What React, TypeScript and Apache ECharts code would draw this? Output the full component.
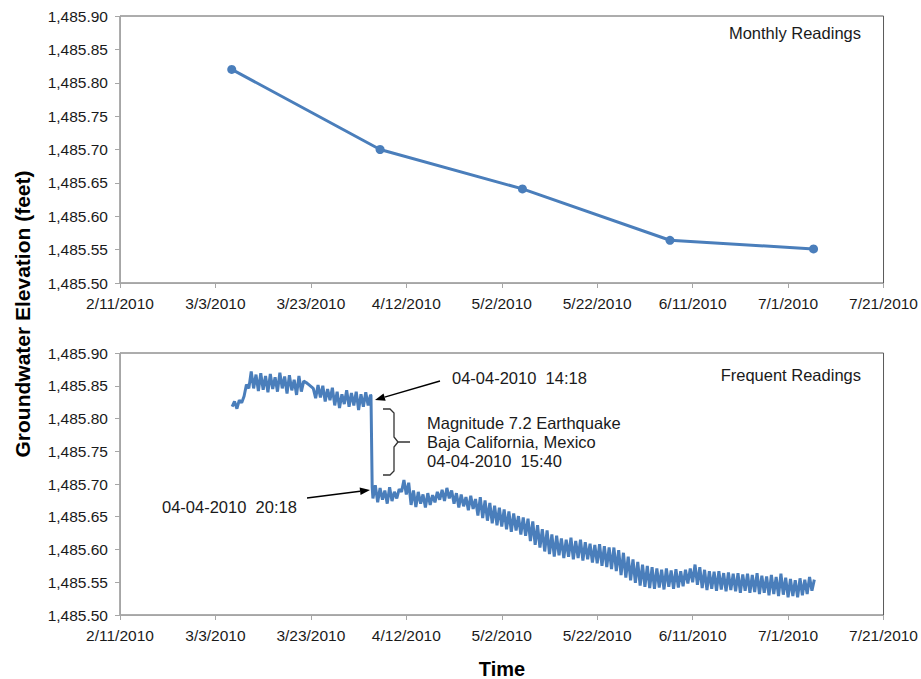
import React, { useEffect, useRef } from "react";
import * as echarts from "echarts";

// ---- axes ----
const X_ORIGIN = "2010-02-11T00:00";
const X_TICK_DAYS = 20;
const X_SPAN_DAYS = 160;
const Y_MIN = 1485.5;
const Y_MAX = 1485.9;
const Y_STEP = 0.05;

// ---- monthly readings ----
const MONTHLY_DATES = ["2010-03-06T10:00", "2010-04-06T12:00", "2010-05-06T08:00", "2010-06-06T06:00", "2010-07-06T08:00"];
const MONTHLY_VALUES = [1485.82, 1485.7, 1485.641, 1485.564, 1485.551];

// ---- frequent readings (12-hour samples) ----
const PRE_QUAKE_START = "2010-03-06T12:00";
const SAMPLE_HOURS = 12;
const PRE_QUAKE_VALUES = [
  1485.818,
  1485.826, 1485.815,
  1485.828, 1485.824,
  1485.834, 1485.852,
  1485.846, 1485.872,
  1485.846, 1485.867,
  1485.842, 1485.869,
  1485.844, 1485.865,
  1485.840, 1485.868,
  1485.845, 1485.863,
  1485.841, 1485.870,
  1485.846, 1485.864,
  1485.838, 1485.866,
  1485.843, 1485.859,
  1485.836, 1485.865,
  1485.841, 1485.857,
  1485.855, 1485.852,
  1485.849, 1485.846,
  1485.831, 1485.851,
  1485.832, 1485.850,
  1485.826, 1485.845,
  1485.828, 1485.847,
  1485.820, 1485.841,
  1485.816, 1485.837,
  1485.822, 1485.843,
  1485.818, 1485.839,
  1485.820, 1485.841,
  1485.813, 1485.837,
  1485.818, 1485.840,
  1485.820, 1485.836,
];
const QUAKE_TIMES = ["2010-04-04T14:18", "2010-04-04T20:18"];
const QUAKE_VALUES = [1485.835, 1485.695];
const POST_QUAKE_START = "2010-04-05T00:00";
const POST_QUAKE_VALUES = [
  1485.678, 1485.698, 1485.672, 1485.694, 1485.676, 1485.690, 1485.670, 1485.695,
  1485.674, 1485.688, 1485.678, 1485.692, 1485.688, 1485.706, 1485.684, 1485.702,
  1485.668, 1485.690, 1485.665, 1485.688, 1485.670, 1485.684, 1485.664, 1485.686,
  1485.668, 1485.683, 1485.672, 1485.688, 1485.676, 1485.691, 1485.674, 1485.694,
  1485.678, 1485.690, 1485.670, 1485.686, 1485.664, 1485.684, 1485.666, 1485.680,
  1485.660, 1485.682, 1485.662, 1485.677,
  1485.652, 1485.680, 1485.648, 1485.675, 1485.644, 1485.671, 1485.640, 1485.667,
  1485.637, 1485.664, 1485.635, 1485.661, 1485.631, 1485.658, 1485.627, 1485.655,
  1485.629, 1485.651, 1485.623, 1485.649, 1485.621, 1485.647, 1485.613, 1485.643,
  1485.607, 1485.637, 1485.603, 1485.631, 1485.597, 1485.629, 1485.593, 1485.623,
  1485.589, 1485.621, 1485.591, 1485.617, 1485.587, 1485.615, 1485.589, 1485.618,
  1485.585, 1485.613, 1485.587, 1485.615, 1485.583, 1485.611, 1485.585, 1485.609,
  1485.580, 1485.607, 1485.579, 1485.608, 1485.575, 1485.605, 1485.573, 1485.603,
  1485.570, 1485.603, 1485.567, 1485.599, 1485.561, 1485.595, 1485.557, 1485.589,
  1485.553, 1485.585, 1485.549, 1485.581, 1485.545, 1485.577, 1485.543, 1485.575,
  1485.541, 1485.573, 1485.540, 1485.571, 1485.542, 1485.569, 1485.539, 1485.571,
  1485.543, 1485.568, 1485.540, 1485.570, 1485.542, 1485.567, 1485.544, 1485.569,
  1485.548, 1485.571, 1485.550, 1485.577, 1485.546, 1485.573, 1485.541, 1485.569,
  1485.538, 1485.567, 1485.540, 1485.566, 1485.537, 1485.567, 1485.539, 1485.564,
  1485.536, 1485.565, 1485.538, 1485.563, 1485.536, 1485.564, 1485.534, 1485.562,
  1485.537, 1485.563, 1485.534, 1485.561, 1485.535, 1485.564, 1485.532, 1485.560,
  1485.534, 1485.559, 1485.530, 1485.561, 1485.532, 1485.558, 1485.529, 1485.563,
  1485.531, 1485.557, 1485.527, 1485.555, 1485.529, 1485.553, 1485.527, 1485.556,
  1485.530, 1485.554, 1485.532, 1485.558, 1485.537, 1485.554,
];

// ---- texts ----
const Y_TITLE = "Groundwater Elevation (feet)";
const X_TITLE = "Time";
const TOP_LABEL = "Monthly Readings";
const BOTTOM_LABEL = "Frequent Readings";
const NOTE_BEFORE = "04-04-2010  14:18";
const NOTE_QUAKE = ["Magnitude 7.2 Earthquake", "Baja California, Mexico", "04-04-2010  15:40"];
const NOTE_AFTER = "04-04-2010  20:18";

const DAY_MS = 86400000;
const FONT = "'Liberation Sans', Arial, Helvetica, sans-serif";
const BLUE = "#4a7ebb";
const TXT = "#1a1a1a";
const AXIS_FS = 15.5;
const NOTE_FS = 16.5;

const t0 = Date.parse(X_ORIGIN + "Z");
const toDays = (s: string) => (Date.parse(s + "Z") - t0) / DAY_MS;

const monthlyData = MONTHLY_DATES.map((d, i) => [toDays(d), MONTHLY_VALUES[i]]);
const frequentData: number[][] = [];
{
  const s1 = toDays(PRE_QUAKE_START);
  PRE_QUAKE_VALUES.forEach((v, i) => frequentData.push([s1 + (i * SAMPLE_HOURS) / 24, v]));
  QUAKE_TIMES.forEach((d, i) => frequentData.push([toDays(d), QUAKE_VALUES[i]]));
  const s2 = toDays(POST_QUAKE_START);
  POST_QUAKE_VALUES.forEach((v, i) => frequentData.push([s2 + (i * SAMPLE_HOURS) / 24, v]));
}

const fmtY = (v: number) => {
  const [i, d] = v.toFixed(2).split(".");
  return i.replace(/\B(?=(\d{3})+(?!\d))/g, ",") + "." + d;
};
const fmtX = (v: number) => {
  const d = new Date(t0 + Math.round(v) * DAY_MS);
  return `${d.getUTCMonth() + 1}/${d.getUTCDate()}/${d.getUTCFullYear()}`;
};

function arrow(x1: number, y1: number, x2: number, y2: number) {
  const ang = Math.atan2(y2 - y1, x2 - x1);
  const len = 10;
  const half = 3.8;
  const bx = x2 - Math.cos(ang) * len;
  const by = y2 - Math.sin(ang) * len;
  const px = -Math.sin(ang) * half;
  const py = Math.cos(ang) * half;
  return [
    { type: "line", shape: { x1, y1, x2: bx, y2: by }, style: { stroke: "#000", lineWidth: 1.4 } },
    {
      type: "polygon",
      shape: { points: [[x2, y2], [bx + px, by + py], [bx - px, by - py]] },
      style: { fill: "#000" },
    },
  ];
}

function makeXAxis(gridIndex: number) {
  return {
    type: "value",
    gridIndex,
    min: 0,
    max: X_SPAN_DAYS,
    interval: X_TICK_DAYS,
    axisLine: { show: true, lineStyle: { color: "#a6a6a6", width: 1 } },
    axisTick: { show: true, length: 5, lineStyle: { color: "#a6a6a6" } },
    axisLabel: { formatter: fmtX, fontSize: AXIS_FS, color: TXT, fontFamily: FONT, margin: 12, showMinLabel: true, showMaxLabel: true },
    splitLine: { show: false },
  };
}
function makeYAxis(gridIndex: number) {
  return {
    type: "value",
    gridIndex,
    min: Y_MIN,
    max: Y_MAX,
    interval: Y_STEP,
    axisLine: { show: true, lineStyle: { color: "#a6a6a6", width: 1 } },
    axisTick: { show: true, length: 5, lineStyle: { color: "#a6a6a6" } },
    axisLabel: { formatter: fmtY, fontSize: AXIS_FS, color: TXT, fontFamily: FONT, margin: 12 },
    splitLine: { show: false },
  };
}

export default function App() {
  const ref = useRef<HTMLDivElement>(null);
  useEffect(() => {
    if (!ref.current) return;
    const chart = echarts.init(ref.current, null, { renderer: "svg" });
    const braceStyle = { stroke: "#333", lineWidth: 1.3, fill: "none" };
    chart.setOption({
      animation: false,
      backgroundColor: "#ffffff",
      grid: [
        { left: 120, top: 16, width: 766, height: 267, show: true, borderColor: "#5a5a5a", borderWidth: 1 },
        { left: 120, top: 353, width: 766, height: 262, show: true, borderColor: "#5a5a5a", borderWidth: 1 },
      ],
      xAxis: [makeXAxis(0), makeXAxis(1)],
      yAxis: [makeYAxis(0), makeYAxis(1)],
      series: [
        {
          type: "line",
          xAxisIndex: 0,
          yAxisIndex: 0,
          data: monthlyData,
          symbol: "circle",
          symbolSize: 9,
          lineStyle: { color: BLUE, width: 3 },
          itemStyle: { color: BLUE },
        },
        {
          type: "line",
          xAxisIndex: 1,
          yAxisIndex: 1,
          data: frequentData,
          showSymbol: false,
          symbol: "none",
          lineStyle: { color: BLUE, width: 3 },
        },
      ],
      graphic: [
        {
          type: "text",
          x: 22,
          y: 314,
          rotation: Math.PI / 2,
          style: { text: Y_TITLE, font: `bold 21px ${FONT}`, fill: "#000", align: "center", verticalAlign: "middle" },
        },
        {
          type: "text",
          x: 502,
          y: 669,
          style: { text: X_TITLE, font: `bold 20px ${FONT}`, fill: "#000", align: "center", verticalAlign: "middle" },
        },
        {
          type: "text",
          x: 861,
          y: 33,
          style: { text: TOP_LABEL, font: `${NOTE_FS}px ${FONT}`, fill: TXT, align: "right", verticalAlign: "middle" },
        },
        {
          type: "text",
          x: 861,
          y: 375,
          style: { text: BOTTOM_LABEL, font: `${NOTE_FS}px ${FONT}`, fill: TXT, align: "right", verticalAlign: "middle" },
        },
        {
          type: "text",
          x: 452,
          y: 378,
          style: { text: NOTE_BEFORE, font: `${NOTE_FS}px ${FONT}`, fill: TXT, align: "left", verticalAlign: "middle" },
        },
        ...NOTE_QUAKE.map((t, i) => ({
          type: "text",
          x: 427,
          y: 423 + i * 18.8,
          style: { text: t, font: `${NOTE_FS}px ${FONT}`, fill: TXT, align: "left", verticalAlign: "middle" },
        })),
        {
          type: "text",
          x: 162,
          y: 507,
          style: { text: NOTE_AFTER, font: `${NOTE_FS}px ${FONT}`, fill: TXT, align: "left", verticalAlign: "middle" },
        },
        ...arrow(440, 381, 375, 400),
        ...arrow(307, 498, 370, 490),
        {
          type: "polyline",
          shape: { points: [[383, 409], [390, 409], [394, 413], [394, 437], [398, 442], [410, 442]] },
          style: braceStyle,
        },
        {
          type: "polyline",
          shape: { points: [[398, 442], [394, 447], [394, 471], [390, 475], [383, 475]] },
          style: braceStyle,
        },
      ],
    });
    return () => chart.dispose();
  }, []);
  return <div ref={ref} style={{ position: "absolute", left: 0, top: 0, width: 921, height: 679 }} />;
}
